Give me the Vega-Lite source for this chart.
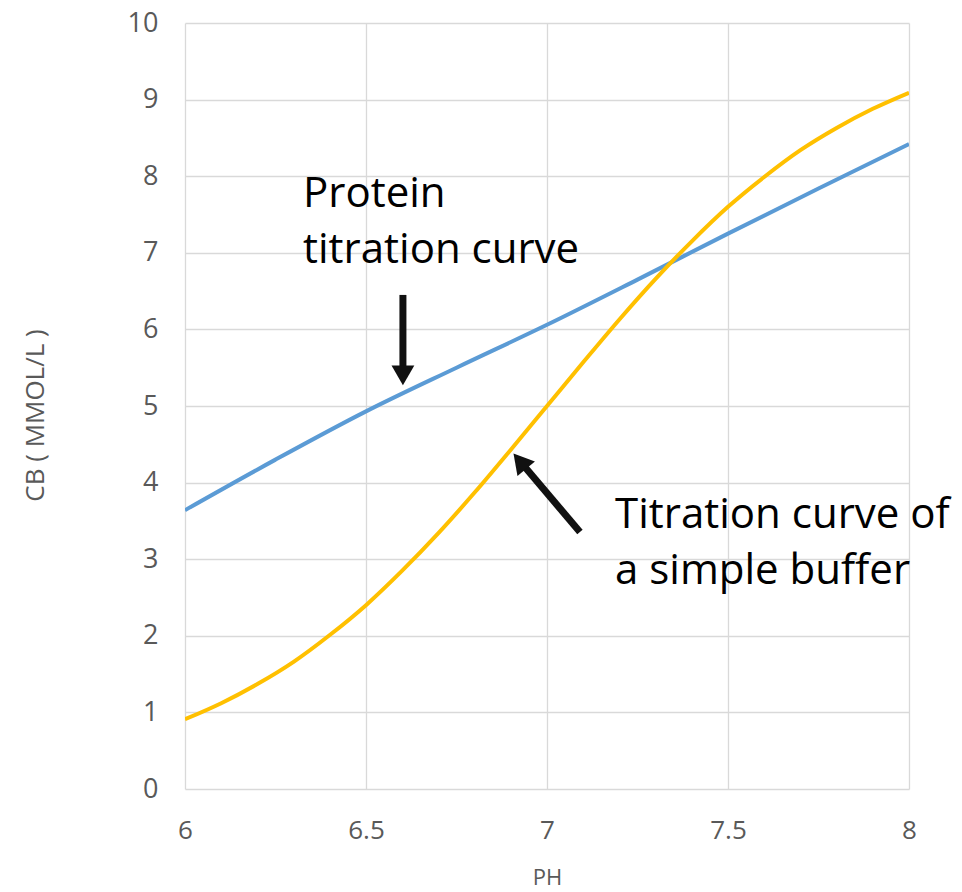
{
  "$schema": "https://vega.github.io/schema/vega-lite/v6.json",
  "width": 724,
  "height": 766,
  "autosize": {"type": "none"},
  "padding": {"left": 185, "top": 23, "right": 53, "bottom": 103},
  "background": "white",
  "config": {"view": {"stroke": null}},
  "datasets": {
    "curves": [
      {"series": "Protein", "ph": 6.0, "cb": 3.64},
      {"series": "Protein", "ph": 6.25, "cb": 4.30},
      {"series": "Protein", "ph": 6.5, "cb": 4.93},
      {"series": "Protein", "ph": 6.75, "cb": 5.50},
      {"series": "Protein", "ph": 7.0, "cb": 6.06},
      {"series": "Protein", "ph": 7.25, "cb": 6.65},
      {"series": "Protein", "ph": 7.5, "cb": 7.25},
      {"series": "Protein", "ph": 7.75, "cb": 7.84},
      {"series": "Protein", "ph": 8.0, "cb": 8.42},
      {"series": "Buffer", "ph": 6.0, "cb": 0.91},
      {"series": "Buffer", "ph": 6.1, "cb": 1.12},
      {"series": "Buffer", "ph": 6.2, "cb": 1.37},
      {"series": "Buffer", "ph": 6.3, "cb": 1.66},
      {"series": "Buffer", "ph": 6.4, "cb": 2.01},
      {"series": "Buffer", "ph": 6.5, "cb": 2.40},
      {"series": "Buffer", "ph": 6.6, "cb": 2.85},
      {"series": "Buffer", "ph": 6.7, "cb": 3.34},
      {"series": "Buffer", "ph": 6.8, "cb": 3.87},
      {"series": "Buffer", "ph": 6.9, "cb": 4.43},
      {"series": "Buffer", "ph": 7.0, "cb": 5.00},
      {"series": "Buffer", "ph": 7.1, "cb": 5.57},
      {"series": "Buffer", "ph": 7.2, "cb": 6.13},
      {"series": "Buffer", "ph": 7.3, "cb": 6.66},
      {"series": "Buffer", "ph": 7.4, "cb": 7.15},
      {"series": "Buffer", "ph": 7.5, "cb": 7.60},
      {"series": "Buffer", "ph": 7.6, "cb": 7.99},
      {"series": "Buffer", "ph": 7.7, "cb": 8.34},
      {"series": "Buffer", "ph": 7.8, "cb": 8.63},
      {"series": "Buffer", "ph": 7.9, "cb": 8.88},
      {"series": "Buffer", "ph": 8.0, "cb": 9.09}
    ],
    "labels": [
      {"label": "Protein\ntitration curve", "ph": 6.326, "cb": 7.60},
      {"label": "Titration curve of\na simple buffer", "ph": 7.188, "cb": 3.41}
    ],
    "shafts": [
      {"ph": 6.602, "cb": 6.45, "ph2": 6.602, "cb2": 5.50},
      {"ph": 7.091, "cb": 3.355, "ph2": 6.936, "cb2": 4.22}
    ],
    "headDown": [{"ph": 6.602, "cb": 5.40}],
    "headDiag": [{"ph": 6.925, "cb": 4.28}]
  },
  "layer": [
    {
      "data": {"name": "curves"},
      "mark": {"type": "line", "strokeWidth": 4, "interpolate": "monotone", "clip": true},
      "encoding": {
        "x": {
          "field": "ph", "type": "quantitative",
          "scale": {"domain": [6, 8], "nice": false, "zero": false},
          "axis": {
            "title": "PH",
            "values": [6, 6.5, 7, 7.5, 8],
            "format": "~g",
            "labelFlush": false,
            "domain": false, "ticks": false,
            "grid": true, "gridColor": "#D9D9D9", "gridWidth": 1.3,
            "labelFont": "Open Sans",
            "labelFontSize": 26, "labelColor": "#595959", "labelPadding": 41,
            "labelBaseline": "middle",
            "titleFont": "Open Sans",
            "titleFontSize": 22, "titleFontWeight": "normal", "titleColor": "#595959",
            "titleBaseline": "middle", "titleY": 88
          }
        },
        "y": {
          "field": "cb", "type": "quantitative",
          "scale": {"domain": [0, 10], "nice": false},
          "axis": {
            "title": "CB ( MMOL/L )",
            "values": [0, 1, 2, 3, 4, 5, 6, 7, 8, 9, 10],
            "format": "d",
            "domain": false, "ticks": false,
            "grid": true, "gridColor": "#D9D9D9", "gridWidth": 1.3,
            "labelFont": "Open Sans", "labelFontSize": 27, "labelColor": "#595959",
            "labelPadding": 27,
            "titleFont": "Open Sans", "titleFontSize": 26, "titleFontWeight": "normal",
            "titleColor": "#595959", "titleBaseline": "middle",
            "titleX": -150, "titleY": 392, "titleAngle": -90
          }
        },
        "color": {
          "field": "series", "type": "nominal",
          "scale": {"domain": ["Protein", "Buffer"], "range": ["#5B9BD5", "#FFC000"]},
          "legend": null
        }
      }
    },
    {
      "data": {"name": "shafts"},
      "mark": {"type": "rule", "color": "#111111", "strokeWidth": 7},
      "encoding": {
        "x": {"field": "ph", "type": "quantitative"},
        "y": {"field": "cb", "type": "quantitative"},
        "x2": {"field": "ph2"},
        "y2": {"field": "cb2"}
      }
    },
    {
      "data": {"name": "headDown"},
      "mark": {"type": "point", "shape": "triangle-down", "filled": true, "color": "#111111", "size": 520, "opacity": 1},
      "encoding": {
        "x": {"field": "ph", "type": "quantitative"},
        "y": {"field": "cb", "type": "quantitative"}
      }
    },
    {
      "data": {"name": "headDiag"},
      "mark": {"type": "point", "shape": "triangle-up", "filled": true, "color": "#111111", "size": 520, "opacity": 1, "angle": -40},
      "encoding": {
        "x": {"field": "ph", "type": "quantitative"},
        "y": {"field": "cb", "type": "quantitative"}
      }
    },
    {
      "data": {"name": "labels"},
      "mark": {"type": "text", "align": "left", "baseline": "alphabetic", "font": "Open Sans", "fontSize": 42, "lineHeight": 56, "color": "#000000", "lineBreak": "\n"},
      "encoding": {
        "x": {"field": "ph", "type": "quantitative"},
        "y": {"field": "cb", "type": "quantitative"},
        "text": {"field": "label"}
      }
    }
  ]
}
